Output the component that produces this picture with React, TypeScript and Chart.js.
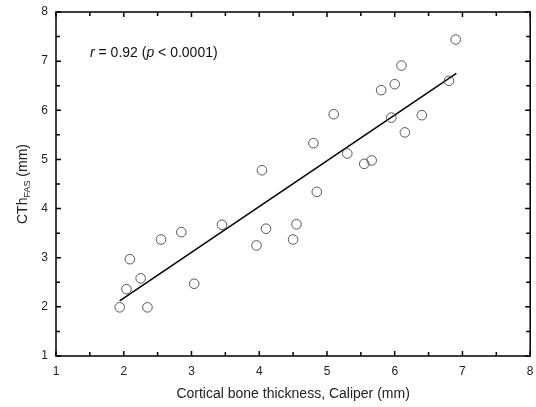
import { useEffect, useRef } from "react";
import { Chart, registerables } from "chart.js";
Chart.register(...registerables);

const caliperX = [1.94, 2.04, 2.09, 2.25, 2.35, 2.55, 2.85, 3.04, 3.45, 3.96, 4.04, 4.1, 4.5, 4.55, 4.8, 4.85, 5.1, 5.3, 5.55, 5.66, 5.8, 5.95, 6.0, 6.1, 6.15, 6.4, 6.8, 6.9];
const fasY = [1.99, 2.36, 2.97, 2.58, 1.99, 3.37, 3.52, 2.47, 3.67, 3.25, 4.78, 3.59, 3.37, 3.68, 5.33, 4.34, 5.92, 5.12, 4.91, 4.98, 6.41, 5.85, 6.53, 6.91, 5.55, 5.9, 6.6, 7.44];
const fitX = [1.94, 6.91];
const fitY = [2.12, 6.75];
const axisMin = 1;
const axisMax = 8;
const majorTicks = [1, 2, 3, 4, 5, 6, 7, 8];
const minorTicks = [1.5, 2.5, 3.5, 4.5, 5.5, 6.5, 7.5];
const xTitle = "Cortical bone thickness, Caliper (mm)";
const yTitleMain = "CTh";
const yTitleSub = "FAS";
const yTitleUnit = " (mm)";
const annotation = [
  { t: "r", italic: true },
  { t: " = 0.92 (", italic: false },
  { t: "p", italic: true },
  { t: " < 0.0001)", italic: false },
];

const FONT = "'Liberation Sans', Arial, sans-serif";

const decorPlugin = {
  id: "decor",
  afterDraw(chart: any) {
    const ctx = chart.ctx;
    const { left, right, top, bottom } = chart.chartArea;
    const xs = chart.scales.x;
    const ys = chart.scales.y;
    ctx.save();
    ctx.strokeStyle = "#000";
    ctx.lineWidth = 1.5;
    ctx.strokeRect(left, top, right - left, bottom - top);
    const drawTicks = (vals: number[], len: number) => {
      ctx.beginPath();
      for (const v of vals) {
        const px = xs.getPixelForValue(v);
        ctx.moveTo(px, bottom);
        ctx.lineTo(px, bottom - len);
        ctx.moveTo(px, top);
        ctx.lineTo(px, top + len);
        const py = ys.getPixelForValue(v);
        ctx.moveTo(left, py);
        ctx.lineTo(left + len, py);
        ctx.moveTo(right, py);
        ctx.lineTo(right - len, py);
      }
      ctx.stroke();
    };
    drawTicks(majorTicks, 5);
    drawTicks(minorTicks, 4);

    // annotation
    ctx.fillStyle = "#111";
    ctx.textBaseline = "alphabetic";
    ctx.textAlign = "left";
    let ax = 90;
    const ay = 57;
    for (const seg of annotation) {
      ctx.font = `${seg.italic ? "italic " : ""}14px ${FONT}`;
      ctx.fillText(seg.t, ax, ay);
      ax += ctx.measureText(seg.t).width;
    }

    // x title
    ctx.font = `14px ${FONT}`;
    ctx.textAlign = "center";
    ctx.textBaseline = "middle";
    ctx.fillStyle = "#222";
    ctx.fillText(xTitle, (left + right) / 2, 394);

    // y title with subscript
    ctx.save();
    ctx.translate(22, (top + bottom) / 2);
    ctx.rotate(-Math.PI / 2);
    ctx.textAlign = "left";
    ctx.textBaseline = "alphabetic";
    ctx.font = `14px ${FONT}`;
    const w1 = ctx.measureText(yTitleMain).width;
    const w3 = ctx.measureText(yTitleUnit).width;
    ctx.font = `9px ${FONT}`;
    const w2 = ctx.measureText(yTitleSub).width;
    let sx = -(w1 + w2 + w3) / 2;
    ctx.font = `14px ${FONT}`;
    ctx.fillText(yTitleMain, sx, 5);
    sx += w1;
    ctx.font = `9px ${FONT}`;
    ctx.fillText(yTitleSub, sx, 8);
    sx += w2;
    ctx.font = `14px ${FONT}`;
    ctx.fillText(yTitleUnit, sx, 5);
    ctx.restore();
    ctx.restore();
  },
};

export default function App() {
  const ref = useRef<HTMLCanvasElement>(null);
  useEffect(() => {
    document.body.style.margin = "0";
    if (!ref.current) return;
    const chart = new Chart(ref.current, {
      type: "scatter",
      data: {
        datasets: [
          {
            type: "scatter",
            data: caliperX.map((x, i) => ({ x, y: fasY[i] })),
            pointStyle: "circle",
            pointRadius: 4.8,
            borderColor: "#555",
            backgroundColor: "rgba(0,0,0,0)",
            borderWidth: 1,
          } as any,
          {
            type: "line",
            data: fitX.map((x, i) => ({ x, y: fitY[i] })),
            borderColor: "#000",
            borderWidth: 1.5,
            pointRadius: 0,
            showLine: true,
            fill: false,
          } as any,
        ],
      },
      options: {
        responsive: false,
        animation: false,
        layout: { padding: { top: 12, right: 3, left: 0, bottom: 0 } },
        plugins: { legend: { display: false }, tooltip: { enabled: false } },
        scales: {
          x: {
            type: "linear",
            min: axisMin,
            max: axisMax,
            grid: { display: false, drawTicks: false },
            border: { display: false },
            ticks: {
              stepSize: 1,
              padding: 8,
              color: "#222",
              font: { family: FONT, size: 12 },
              maxRotation: 0,
            },
            afterFit: (s: any) => {
              s.height = 51;
              s.paddingLeft = 0;
              s.paddingRight = 0;
            },
          },
          y: {
            type: "linear",
            min: axisMin,
            max: axisMax,
            grid: { display: false, drawTicks: false },
            border: { display: false },
            ticks: {
              stepSize: 1,
              padding: 8,
              color: "#222",
              font: { family: FONT, size: 12 },
            },
            afterFit: (s: any) => {
              s.width = 56;
              s.paddingTop = 0;
              s.paddingBottom = 0;
            },
          },
        },
      },
      plugins: [decorPlugin],
    });
    return () => chart.destroy();
  }, []);
  return (
    <div style={{ width: 536, height: 407 }}>
      <canvas ref={ref} width={536} height={407} />
    </div>
  );
}
